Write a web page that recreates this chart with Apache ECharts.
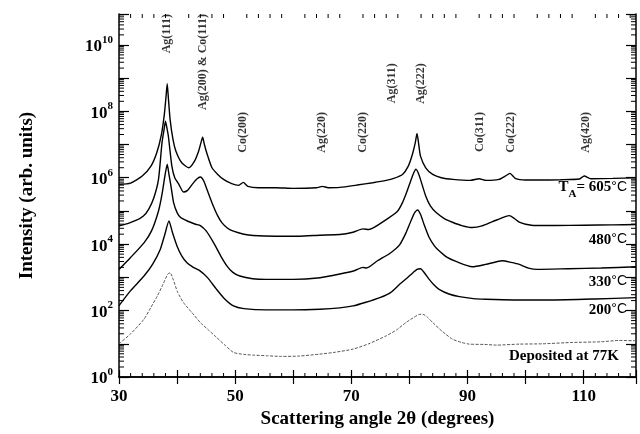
<!DOCTYPE html>
<html>
<head>
<meta charset="utf-8">
<title>Ag-Co XRD</title>
<script src="https://cdn.jsdelivr.net/npm/echarts@6/dist/echarts.min.js"></script>
<style>
html, body { margin: 0; background: #fff; }
#chart { width: 640px; height: 434px; }
</style>
</head>
<body>
<div id="chart"></div>
<script>
// [2theta (deg), log10 intensity]
const curve605 = [[30,5.80],[32,5.84],[34,6.05],[35.5,6.35],[36.5,6.75],[37.3,7.3],[37.8,7.9],[38.1,8.45],[38.3,8.83],[38.5,8.4],[38.8,7.75],[39.3,7.15],[39.8,6.8],[40.8,6.45],[42.0,6.30],[43.0,6.5],[43.7,6.8],[44.1,7.05],[44.4,7.22],[44.7,7.0],[45.1,6.75],[46.0,6.3],[47.0,6.1],[48,5.95],[49.4,5.82],[50.6,5.77],[51.4,5.86],[52.2,5.74],[54,5.70],[57,5.70],[60,5.68],[64,5.70],[65,5.74],[66,5.70],[68,5.71],[71,5.78],[73.7,5.85],[76,5.92],[77.3,5.98],[78.8,6.1],[79.8,6.35],[80.5,6.7],[81.0,7.05],[81.3,7.33],[81.6,7.0],[81.9,6.65],[82.8,6.3],[84.0,6.1],[85.5,6.0],[87.5,5.95],[90.5,5.92],[92.0,5.97],[93.2,5.92],[95.4,5.95],[96.5,6.05],[97.3,6.13],[98.3,5.97],[100,5.93],[102,5.93],[106,5.94],[109.2,5.96],[110.1,6.05],[111.2,5.97],[115,5.98],[119,6.0]];
const curve480 = [[30,4.55],[31.5,4.62],[33,4.72],[34.2,4.85],[35.1,5.05],[36,5.4],[36.8,5.95],[37.4,7.05],[37.8,7.5],[38.0,7.70],[38.3,7.45],[38.5,7.25],[39.1,6.35],[39.6,6.0],[40.3,5.8],[41.1,5.57],[41.8,5.62],[42.6,5.8],[43.4,5.96],[44.0,6.02],[44.6,5.9],[45.2,5.62],[46.0,5.25],[47.0,4.85],[47.7,4.65],[48.7,4.48],[49.7,4.39],[51.5,4.30],[53.1,4.26],[57,4.24],[61,4.24],[64.6,4.27],[68,4.29],[70.3,4.36],[72,4.46],[73,4.44],[76,4.74],[77.9,4.98],[78.8,5.25],[79.6,5.6],[80.3,5.95],[80.8,6.17],[81.1,6.26],[81.5,6.15],[81.9,5.95],[82.8,5.45],[83.6,5.15],[84.6,4.95],[86,4.77],[87.4,4.66],[89,4.56],[90.8,4.5],[92.5,4.55],[94.3,4.68],[95.5,4.76],[96.5,4.83],[97.2,4.86],[98.0,4.78],[98.9,4.66],[100,4.60],[101.7,4.56],[105,4.56],[110,4.57],[115,4.58],[119,4.59]];
const curve330 = [[30,3.24],[32,3.6],[34.3,4.04],[35.6,4.4],[36.8,5.0],[37.4,5.5],[37.9,6.05],[38.3,6.41],[38.6,6.1],[38.9,5.8],[39.4,5.25],[40.0,4.95],[40.6,4.8],[41.5,4.72],[42.3,4.66],[43.2,4.6],[44.0,4.56],[45,4.4],[46.3,4.04],[47.5,3.65],[48.6,3.34],[49.6,3.15],[50.8,3.04],[53,2.96],[55.4,2.94],[60,2.94],[64.6,2.99],[68,3.1],[70.5,3.2],[72,3.3],[72.6,3.28],[74.5,3.5],[76.6,3.72],[78.3,3.98],[79.4,4.34],[80.3,4.72],[80.9,4.95],[81.4,5.03],[81.9,4.9],[82.5,4.6],[83.4,4.2],[84.3,3.95],[85.1,3.8],[86.5,3.6],[88,3.48],[90.8,3.32],[93.1,3.39],[95,3.47],[96.0,3.5],[97.5,3.45],[98.9,3.39],[100.5,3.28],[102,3.24],[107.4,3.26],[113,3.28],[119,3.32]];
const curve200 = [[30,2.15],[32,2.6],[34.3,3.04],[35.8,3.4],[37.1,3.84],[37.9,4.3],[38.6,4.7],[39.2,4.35],[40.0,3.94],[40.8,3.65],[41.7,3.44],[42.8,3.3],[44.0,3.19],[45.2,3.0],[46.8,2.64],[48.2,2.35],[49.7,2.14],[51.5,2.06],[55.4,2.02],[60,2.02],[64.6,2.04],[68,2.08],[70.3,2.14],[72.5,2.25],[74.9,2.39],[76.8,2.55],[78.3,2.79],[79.6,2.98],[80.6,3.14],[81.3,3.24],[81.9,3.26],[82.6,3.13],[83.4,2.94],[84.2,2.78],[85.1,2.64],[86.8,2.5],[88.6,2.42],[91,2.36],[93.1,2.34],[98,2.32],[104.6,2.32],[112,2.35],[119,2.39]];
const curve77K = [[30,1.0],[32,1.3],[34.3,1.74],[35.5,2.1],[36.6,2.44],[37.6,2.8],[38.4,3.1],[38.8,3.14],[39.3,2.95],[40.1,2.55],[41.1,2.24],[42.5,1.95],[44.0,1.64],[45.5,1.4],[46.8,1.19],[48.3,0.95],[49.7,0.74],[51.5,0.68],[53,0.66],[55.4,0.64],[58,0.62],[61,0.63],[64.6,0.69],[67,0.74],[70.3,0.84],[73,1.0],[76,1.24],[77.8,1.42],[79.4,1.64],[80.8,1.8],[81.6,1.88],[82.3,1.89],[83.1,1.8],[84.0,1.64],[85.6,1.38],[87.4,1.14],[89,1.04],[90.3,0.99],[93,0.98],[95,0.96],[98.9,0.99],[103,1.0],[108,1.04],[113,1.06],[116,1.1],[119,1.09]];

const peakNames = ['Ag(111)', 'Ag(200) & Co(111)', 'Co(200)', 'Ag(220)', 'Co(220)', 'Ag(311)', 'Ag(222)', 'Co(311)', 'Co(222)', 'Ag(420)'];
const peakAngles = [38.3, 44.4, 51.3, 65.0, 72.0, 77.0, 82.0, 92.1, 97.5, 110.3];
const peakRow = [0, 0, 2, 2, 2, 1, 1, 2, 2, 2];

const xTickLabels = [30, 50, 70, 90, 110];
const yTickLabels = [0, 2, 4, 6, 8, 10];

// axis range
const X_MIN = 30, X_MAX = 119;
const Y_MIN = 0, Y_MAX = 10.93;
const FONT = 'Liberation Serif';

// minor ticks: every 2 deg on x, log steps 2..9 on y
const xMinor = [];
for (let v = 32; v < X_MAX; v += 2) {
  if (v % 10 !== 0) xMinor.push(v);
}
const yMinor = [];
for (let n = 0; n < 11; n++) {
  for (let k = 2; k <= 9; k++) {
    const v = n + Math.log10(k);
    if (v < Y_MAX) yMinor.push(v);
  }
}

// top of each row of peak labels, in decades
const labelTop = [10.93, 9.45, 7.98];

const chart = echarts.init(document.getElementById('chart'));

const axisLine = { show: true, lineStyle: { color: '#000', width: 1.5 } };

function curve(name, data, style) {
  return {
    name: name,
    type: 'line',
    data: data,
    showSymbol: false,
    symbol: 'none',
    smooth: 0.2,
    lineStyle: Object.assign({ color: '#000', width: 1.4 }, style || {}),
    z: 3
  };
}

const tickStyle = { stroke: '#000', lineWidth: 1 };

const option = {
  animation: false,
  grid: { left: 119, right: 4, top: 14, bottom: 56 },
  xAxis: [
    {
      type: 'value', min: X_MIN, max: X_MAX, interval: 10,
      axisLine: axisLine,
      axisTick: { inside: true, length: 7, lineStyle: { color: '#000', width: 1.2 } },
      splitLine: { show: false },
      axisLabel: {
        margin: 11, color: '#000', fontFamily: FONT, fontWeight: 'bold', fontSize: 17,
        formatter: v => xTickLabels.indexOf(v) >= 0 ? String(v) : ''
      },
      name: 'Scattering angle 2θ (degrees)',
      nameLocation: 'middle',
      nameGap: 33,
      nameTextStyle: { color: '#000', fontFamily: FONT, fontWeight: 'bold', fontSize: 19 }
    },
    {
      type: 'value', min: X_MIN, max: X_MAX, interval: 10, position: 'top',
      axisLine: axisLine,
      axisTick: { inside: true, length: 7, lineStyle: { color: '#000', width: 1.2 } },
      axisLabel: { show: false },
      splitLine: { show: false }
    }
  ],
  yAxis: [
    {
      type: 'value', min: Y_MIN, max: Y_MAX, interval: 1,
      axisLine: axisLine,
      axisTick: { inside: true, length: 10, lineStyle: { color: '#000', width: 1.2 } },
      splitLine: { show: false },
      axisLabel: {
        margin: 6,
        formatter: v => yTickLabels.indexOf(v) >= 0 ? '{b|10}{s|' + v + '}' : '',
        rich: {
          b: { fontFamily: FONT, fontWeight: 'bold', fontSize: 17, color: '#000', padding: [4, 0, 0, 0], verticalAlign: 'bottom' },
          s: { fontFamily: FONT, fontWeight: 'bold', fontSize: 11, color: '#000', verticalAlign: 'top' }
        }
      },
      name: 'Intensity (arb. units)',
      nameLocation: 'middle',
      nameGap: 82,
      nameTextStyle: { color: '#000', fontFamily: FONT, fontWeight: 'bold', fontSize: 19 }
    },
    {
      type: 'value', min: Y_MIN, max: Y_MAX, interval: 1, position: 'right',
      axisLine: axisLine,
      axisTick: { inside: true, length: 10, lineStyle: { color: '#000', width: 1.2 } },
      axisLabel: { show: false },
      splitLine: { show: false }
    }
  ],
  series: [
    curve('605', curve605),
    curve('480', curve480),
    curve('330', curve330),
    curve('200', curve200),
    curve('77K', curve77K, { color: '#555', width: 1, type: [3, 1.5] }),
    {
      type: 'scatter',
      symbolSize: 0,
      silent: true,
      data: peakNames.map((n, i) => ({ name: n, value: [peakAngles[i], labelTop[peakRow[i]]] })),
      label: {
        show: true, position: 'inside', formatter: '{b}', rotate: 90,
        align: 'right', verticalAlign: 'middle',
        color: '#000', fontFamily: FONT, fontWeight: 'bold', fontSize: 12
      },
      z: 4
    },
    {
      type: 'custom',
      silent: true,
      clip: false,
      data: xMinor.map(v => [v, Y_MIN]),
      renderItem: (params, api) => {
        const v = api.value(0);
        const b = api.coord([v, Y_MIN]);
        const t = api.coord([v, Y_MAX]);
        return {
          type: 'group',
          children: [
            { type: 'line', shape: { x1: b[0], y1: b[1], x2: b[0], y2: b[1] - 4 }, style: tickStyle },
            { type: 'line', shape: { x1: t[0], y1: t[1], x2: t[0], y2: t[1] + 4 }, style: tickStyle }
          ]
        };
      },
      z: 5
    },
    {
      type: 'custom',
      silent: true,
      clip: false,
      data: yMinor.map(v => [X_MIN, v]),
      renderItem: (params, api) => {
        const v = api.value(1);
        const l = api.coord([X_MIN, v]);
        const r = api.coord([X_MAX, v]);
        return {
          type: 'group',
          children: [
            { type: 'line', shape: { x1: l[0], y1: l[1], x2: l[0] + 5, y2: l[1] }, style: tickStyle },
            { type: 'line', shape: { x1: r[0], y1: r[1], x2: r[0] - 5, y2: r[1] }, style: tickStyle }
          ]
        };
      },
      z: 5
    }
  ],
  graphic: [
    ['{b|T}{sub|A}{b|= 605}{deg|°C}', 190],
    ['{b|480}{deg|°C}', 240],
    ['{b|330}{deg|°C}', 282],
    ['{b|200}{deg|°C}', 310],
    ['{b|Deposited at 77K}', 356]
  ].map(([text, y], i) => ({
    type: 'text',
    x: i === 4 ? 619 : 627,
    y: y,
    style: {
      text: text,
      textAlign: 'right',
      textVerticalAlign: 'middle',
      rich: {
        b: { fontFamily: FONT, fontWeight: 'bold', fontSize: 15, fill: '#000', verticalAlign: 'top' },
        sub: { fontFamily: FONT, fontWeight: 'bold', fontSize: 11, fill: '#000', padding: [9, 0, 0, 0], verticalAlign: 'bottom' },
        deg: { fontFamily: 'Liberation Sans', fontSize: 14, fill: '#000', verticalAlign: 'top' }
      }
    },
    z: 10
  }))
};

chart.setOption(option);
</script>
</body>
</html>
